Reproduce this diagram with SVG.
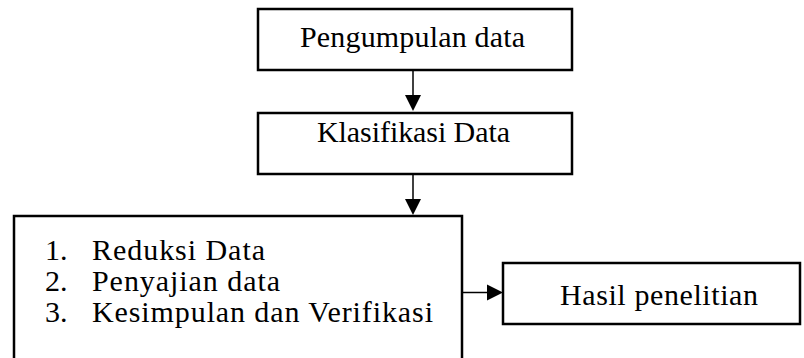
<svg xmlns="http://www.w3.org/2000/svg" width="804" height="358" viewBox="0 0 804 358">
<style>
.box{fill:#fff;stroke:#000;stroke-width:2.5}
.t{font-family:'Liberation Serif','Times New Roman',serif;font-size:30px;fill:#000}
.c{fill:none;stroke:#000;stroke-width:1.5}
.ah{fill:#000}
</style>
<rect width="804" height="358" fill="#fff"/>
<g id="connectors">
<line class="c" x1="413" y1="70" x2="413" y2="97"/>
<path class="ah" d="M405,95 L421,95 L413,111 Z"/>
<line class="c" x1="413" y1="174" x2="413" y2="200"/>
<path class="ah" d="M405,199 L421,199 L413,215 Z"/>
<line class="c" x1="462" y1="292.5" x2="489" y2="292.5"/>
<path class="ah" d="M487,284.5 L487,300.5 L503,292.5 Z"/>
</g>
<g id="pengumpulan">
<rect class="box" x="258" y="9" width="314" height="61"/>
<text class="t" x="412.5" y="47" text-anchor="middle" textLength="225" lengthAdjust="spacing">Pengumpulan data</text>
</g>
<g id="klasifikasi">
<rect class="box" x="258" y="113" width="314" height="61"/>
<text class="t" x="413.5" y="142" text-anchor="middle" textLength="193" lengthAdjust="spacing">Klasifikasi Data</text>
</g>
<g id="analisis">
<rect class="box" x="14" y="216" width="448" height="160"/>
<text class="t" x="45" y="260">1.</text>
<text class="t" x="92" y="260" textLength="173" lengthAdjust="spacing">Reduksi Data</text>
<text class="t" x="45" y="291">2.</text>
<text class="t" x="92" y="291" textLength="188" lengthAdjust="spacing">Penyajian data</text>
<text class="t" x="45" y="322">3.</text>
<text class="t" x="92" y="322" textLength="341" lengthAdjust="spacing">Kesimpulan dan Verifikasi</text>
</g>
<g id="hasil">
<rect class="box" x="503" y="263" width="297" height="61"/>
<text class="t" x="659" y="305" text-anchor="middle" textLength="198" lengthAdjust="spacing">Hasil penelitian</text>
</g>
</svg>
